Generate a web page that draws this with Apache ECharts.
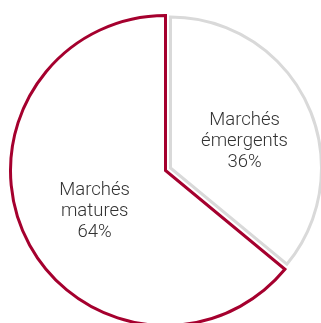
<!DOCTYPE html>
<html>
<head>
<meta charset="utf-8">
<script src="https://cdn.jsdelivr.net/npm/echarts@6/dist/echarts.min.js"></script>
<style>html,body{margin:0;padding:0;background:#fff;}#c{width:321px;height:323px;}</style>
</head>
<body>
<div id="c"></div>
<script>
const categories = ['Marchés émergents', 'Marchés matures'];
const labelTexts = ['Marchés\némergents', 'Marchés\nmatures'];
const values = [36, 64];
const borderColors = ['#d9d9d9', '#a5002e'];

const chart = echarts.init(document.getElementById('c'), null, {renderer: 'canvas'});

function makeSeries(visibleIndex, center, radius, dx, dy) {
  return {
    type: 'pie',
    center: center,
    radius: radius,
    startAngle: 90,
    clockwise: true,
    silent: true,
    animation: false,
    labelLine: {show: false},
    labelLayout: {dx: dx, dy: dy},
    emphasis: {disabled: true},
    data: categories.map((name, i) => {
      const vis = i === visibleIndex;
      return {
        name: name,
        value: values[i],
        itemStyle: vis
          ? {color: '#ffffff', borderColor: borderColors[i], borderWidth: 3, borderJoin: 'miter'}
          : {color: 'rgba(0,0,0,0)', borderWidth: 0},
        label: vis
          ? {
              show: true,
              position: 'inside',
              formatter: p => labelTexts[p.dataIndex] + '\n' + Math.round(p.percent) + '%',
              fontFamily: 'Roboto',
              fontWeight: 300,
              fontSize: 18.5,
              lineHeight: 21,
              color: '#333333'
            }
          : {show: false}
      };
    })
  };
}

chart.setOption({
  backgroundColor: '#ffffff',
  animation: false,
  series: [
    makeSeries(1, [165.5, 170.5], 155, 2, 7),
    makeSeries(0, [170.5, 168], 151, 3, 7)
  ]
});
</script>
</body>
</html>
